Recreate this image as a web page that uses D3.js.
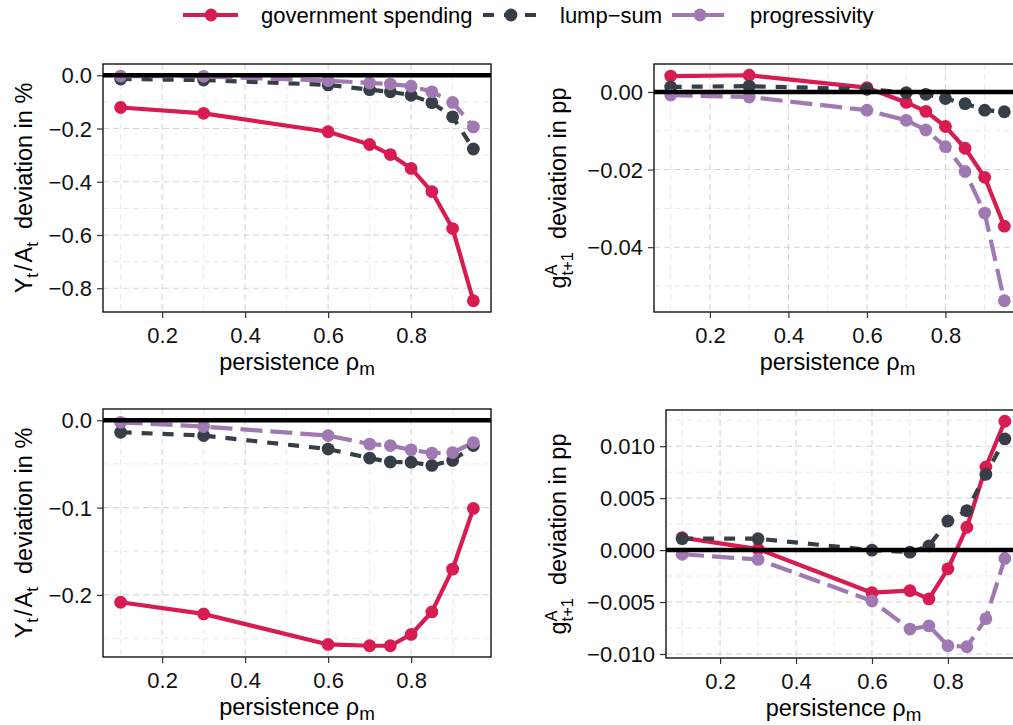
<!DOCTYPE html>
<html>
<head>
<meta charset="utf-8">
<script src="https://cdn.jsdelivr.net/npm/d3@7/dist/d3.min.js"></script>
<style>
  html, body { margin: 0; padding: 0; background: #ffffff; }
  svg { display: block; font-family: "Liberation Sans", Arial, Helvetica, sans-serif; }
</style>
</head>
<body>
<svg id="chart" width="1013" height="725"></svg>
<script>
// ---- data -------------------------------------------------------------
const rho = [0.1, 0.3, 0.6, 0.7, 0.75, 0.8, 0.85, 0.9, 0.95];

const seriesNames = ["government spending", "lump\u2212sum", "progressivity"];

// Y_t/A_t deviation in %, first scenario
const outTopGov  = [-0.121, -0.143, -0.212, -0.260, -0.298, -0.350, -0.437, -0.576, -0.847];
const outTopLump = [-0.014, -0.018, -0.036, -0.054, -0.062, -0.075, -0.103, -0.156, -0.277];
const outTopProg = [-0.003, -0.004, -0.020, -0.029, -0.033, -0.041, -0.062, -0.102, -0.194];

// g^A_{t+1} deviation in pp, first scenario
const grTopGov  = [0.0041, 0.0043, 0.0011, -0.0027, -0.0050, -0.0089, -0.0145, -0.0220, -0.0346];
const grTopLump = [0.0013, 0.0015, 0.0007, -0.0002, -0.0006, -0.0017, -0.0030, -0.0047, -0.0051];
const grTopProg = [-0.0008, -0.0013, -0.0047, -0.0073, -0.0098, -0.0141, -0.0205, -0.0312, -0.0538];

// Y_t/A_t deviation in %, second scenario
const outBotGov  = [-0.2084, -0.2218, -0.2567, -0.2582, -0.2582, -0.2453, -0.2195, -0.1705, -0.1010];
const outBotLump = [-0.0137, -0.0175, -0.0330, -0.0433, -0.0478, -0.0480, -0.0517, -0.0460, -0.0290];
const outBotProg = [-0.0023, -0.0072, -0.0175, -0.0273, -0.0290, -0.0338, -0.0376, -0.0370, -0.0255];

// g^A_{t+1} deviation in pp, second scenario
const grBotGov  = [0.0012, 0.0001, -0.0041, -0.0039, -0.0047, -0.0018, 0.0022, 0.0080, 0.0124];
const grBotLump = [0.0011, 0.0011, 0.0000, -0.0002, 0.0004, 0.0028, 0.0038, 0.0073, 0.0107];
const grBotProg = [-0.0004, -0.0009, -0.0049, -0.0076, -0.0073, -0.0092, -0.0093, -0.0066, -0.0008];

// axis breaks
const xTicks      = [0.2, 0.4, 0.6, 0.8];
const xMinor      = [0.1, 0.3, 0.5, 0.7, 0.9];
const yTicksOutTop = [0.0, -0.2, -0.4, -0.6, -0.8];
const yMinorOutTop = [-0.1, -0.3, -0.5, -0.7];
const yTicksGrTop  = [0.00, -0.02, -0.04];
const yMinorGrTop  = [-0.01, -0.03, -0.05];
const yTicksOutBot = [0.0, -0.1, -0.2];
const yMinorOutBot = [-0.05, -0.15, -0.25];
const yTicksGrBot  = [0.010, 0.005, 0.000, -0.005, -0.010];
const yMinorGrBot  = [0.0125, 0.0075, 0.0025, -0.0025, -0.0075];

// ---- styling ------------------------------------------------------------
const colors  = ["#D81B51", "#383E48", "#A079B3"];
const dashes  = [null, "11,10", "22,8"];
const LINE_W  = 4.2;
const PT_R    = 6.4;
const TICK_FS = 22;
const TITLE_FS = 23.5;

const svg = d3.select("#chart");

// panel layouts: pixel boxes of the plotting regions
const panels = [
  { box: { l: 103, r: 491,  t: 64,  b: 312 }, ys: [outTopGov, outTopLump, outTopProg],
    ticks: yTicksOutTop, minor: yMinorOutTop, fmt: d3.format(".1f"), title: "out" },
  { box: { l: 654, r: 1021, t: 64,  b: 312 }, ys: [grTopGov, grTopLump, grTopProg],
    ticks: yTicksGrTop, minor: yMinorGrTop, fmt: d3.format(".2f"), title: "gr" },
  { box: { l: 103, r: 491,  t: 409, b: 657 }, ys: [outBotGov, outBotLump, outBotProg],
    ticks: yTicksOutBot, minor: yMinorOutBot, fmt: d3.format(".1f"), title: "out" },
  { box: { l: 666, r: 1021, t: 410, b: 658 }, ys: [grBotGov, grBotLump, grBotProg],
    ticks: yTicksGrBot, minor: yMinorGrBot, fmt: d3.format(".3f"), title: "gr" }
];

// ggplot-like 5% expansion of a continuous range
function expand(lo, hi) {
  const pad = (hi - lo) * 0.05;
  return [lo - pad, hi + pad];
}

panels.forEach((p, pi) => {
  const { l, r, t, b } = p.box;
  const x = d3.scaleLinear().domain(expand(d3.min(rho), d3.max(rho))).range([l, r]);
  const all = p.ys.flat().concat([0]);
  const y = d3.scaleLinear().domain(expand(d3.min(all), d3.max(all))).range([b, t]);

  const g = svg.append("g");
  const clipId = "clip" + pi;
  svg.append("clipPath").attr("id", clipId)
    .append("rect").attr("x", l).attr("y", t).attr("width", r - l).attr("height", b - t);

  // minor grid
  const grid = g.append("g");
  grid.selectAll(".vminor").data(xMinor.filter(v => x(v) > l && x(v) < r)).join("line")
    .attr("x1", d => x(d)).attr("x2", d => x(d)).attr("y1", t).attr("y2", b)
    .attr("stroke", "#EBEBEB").attr("stroke-width", 1).attr("stroke-dasharray", "6,4");
  grid.selectAll(".hminor").data(p.minor.filter(v => y(v) > t && y(v) < b)).join("line")
    .attr("y1", d => y(d)).attr("y2", d => y(d)).attr("x1", l).attr("x2", r)
    .attr("stroke", "#EBEBEB").attr("stroke-width", 1).attr("stroke-dasharray", "6,4");
  // major grid
  grid.selectAll(".vmajor").data(xTicks).join("line")
    .attr("x1", d => x(d)).attr("x2", d => x(d)).attr("y1", t).attr("y2", b)
    .attr("stroke", "#D6D6D6").attr("stroke-width", 1.1).attr("stroke-dasharray", "6,4");
  grid.selectAll(".hmajor").data(p.ticks).join("line")
    .attr("y1", d => y(d)).attr("y2", d => y(d)).attr("x1", l).attr("x2", r)
    .attr("stroke", "#D6D6D6").attr("stroke-width", 1.1).attr("stroke-dasharray", "6,4");

  // series lines and points
  const plot = g.append("g").attr("clip-path", `url(#${clipId})`);
  const line = d3.line().x((d, i) => x(rho[i])).y(d => y(d));
  p.ys.forEach((vals, si) => {
    plot.append("path").datum(vals)
      .attr("d", line)
      .attr("fill", "none")
      .attr("stroke", colors[si])
      .attr("stroke-width", LINE_W)
      .attr("stroke-linejoin", "round")
      .attr("stroke-dasharray", dashes[si]);
  });
  p.ys.forEach((vals, si) => {
    plot.selectAll(null).data(vals).join("circle")
      .attr("cx", (d, i) => x(rho[i])).attr("cy", d => y(d))
      .attr("r", PT_R).attr("fill", colors[si]);
  });

  // zero reference line
  plot.append("line")
    .attr("x1", l).attr("x2", r).attr("y1", y(0)).attr("y2", y(0))
    .attr("stroke", "#000").attr("stroke-width", 4.5);

  // panel border
  g.append("rect").attr("x", l).attr("y", t).attr("width", r - l).attr("height", b - t)
    .attr("fill", "none").attr("stroke", "#000").attr("stroke-width", 1.3);

  // axes
  const xAxis = d3.axisBottom(x).tickValues(xTicks).tickFormat(d3.format(".1f"))
    .tickSizeInner(6).tickSizeOuter(0).tickPadding(9);
  const xa = g.append("g").attr("transform", `translate(0,${b})`).call(xAxis);
  const yAxis = d3.axisLeft(y).tickValues(p.ticks).tickFormat(p.fmt)
    .tickSizeInner(6).tickSizeOuter(0).tickPadding(5);
  const ya = g.append("g").attr("transform", `translate(${l},0)`).call(yAxis);
  [xa, ya].forEach(a => {
    a.select(".domain").remove();
    a.selectAll(".tick line").attr("stroke", "#333").attr("stroke-width", 1.2);
    a.selectAll(".tick text").attr("fill", "#111").attr("font-size", TICK_FS)
      .attr("font-family", "Liberation Sans, Arial, sans-serif");
  });
  ya.selectAll(".tick text").attr("dy", "0.35em");

  // x title: persistence rho_m
  const xt = g.append("text")
    .attr("x", (l + r) / 2).attr("y", b + 58)
    .attr("text-anchor", "middle").attr("font-size", TITLE_FS).attr("fill", "#000");
  xt.append("tspan").text("persistence \u03C1");
  xt.append("tspan").text("m").attr("font-size", TITLE_FS * 0.8).attr("dy", 5);

  // y title
  const cy = (t + b) / 2;
  if (p.title === "out") {
    const yt = g.append("text")
      .attr("transform", `translate(32,${cy}) rotate(-90)`)
      .attr("text-anchor", "middle").attr("font-size", TITLE_FS).attr("fill", "#000");
    yt.append("tspan").text("Y");
    yt.append("tspan").text("t").attr("font-size", TITLE_FS * 0.72).attr("dy", 6);
    yt.append("tspan").text("/").attr("dy", -6).attr("dx", 2);
    yt.append("tspan").text("A").attr("dx", 2);
    yt.append("tspan").text("t").attr("font-size", TITLE_FS * 0.72).attr("dy", 6);
    yt.append("tspan").text("\u00A0\u00A0deviation in %").attr("dy", -6);
  } else {
    const yt = g.append("text")
      .attr("transform", `translate(566,${cy}) rotate(-90)`)
      .attr("text-anchor", "middle").attr("font-size", TITLE_FS).attr("fill", "#000");
    yt.append("tspan").text("g");
    const sup = yt.append("tspan").text("A").attr("font-size", TITLE_FS * 0.7).attr("dy", -9);
    const supW = sup.node().getComputedTextLength();
    yt.append("tspan").text("t+1").attr("font-size", TITLE_FS * 0.7)
      .attr("dx", -supW).attr("dy", 16);
    yt.append("tspan").text("\u00A0\u00A0deviation in pp").attr("dy", -7);
  }
});

// ---- legend -------------------------------------------------------------
const legend = svg.append("g");
const keyX = [183, 483, 672];
const textX = [261, 560, 750];
const legY = 15;
seriesNames.forEach((name, i) => {
  legend.append("line")
    .attr("x1", keyX[i]).attr("x2", keyX[i] + 55).attr("y1", legY).attr("y2", legY)
    .attr("stroke", colors[i]).attr("stroke-width", LINE_W)
    .attr("stroke-dasharray", dashes[i]);
  legend.append("circle")
    .attr("cx", keyX[i] + 28).attr("cy", legY).attr("r", PT_R).attr("fill", colors[i]);
  legend.append("text")
    .attr("x", textX[i]).attr("y", legY).attr("dy", "0.35em")
    .attr("font-size", 22).attr("fill", "#000").text(name);
});
</script>
</body>
</html>
